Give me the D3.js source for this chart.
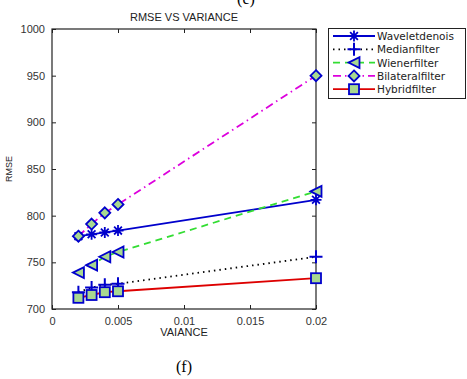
<!DOCTYPE html>
<html><head><meta charset="utf-8">
<script src="https://cdn.jsdelivr.net/npm/d3@7"></script>
<style>body{margin:0;background:#fff}svg{display:block}</style>
</head><body><svg id="c" width="467" height="379"></svg>
<script>
const variance = [0.002, 0.003, 0.004, 0.005, 0.02];
const wavelet   = [778, 780, 782, 784, 817];
const median    = [718, 723, 726, 727, 756];
const wiener    = [739, 747, 756, 761, 826];
const bilateral = [778, 791, 803, 812, 950];
const hybrid    = [712, 715, 718, 719, 733];
const seriesNames = ["Waveletdenois","Medianfilter","Wienerfilter","Bilateralfilter","Hybridfilter"];
const xTicks = [0, 0.005, 0.01, 0.015, 0.02];
const xTickLabels = ["0","0.005","0.01","0.015","0.02"];
const yTicks = [700, 750, 800, 850, 900, 950, 1000];

const series = [
  {name: seriesNames[0], values: wavelet,   color:"#0000cc", dash:null,        marker:"star"},
  {name: seriesNames[1], values: median,    color:"#000000", dash:"1.5,4",     marker:"plus"},
  {name: seriesNames[2], values: wiener,    color:"#33dd33", dash:"7,5",       marker:"tri"},
  {name: seriesNames[3], values: bilateral, color:"#dd00dd", dash:"8,4,1.5,4", marker:"diamond"},
  {name: seriesNames[4], values: hybrid,    color:"#dd0000", dash:null,        marker:"square"}
];

const svg = d3.select("#c");
const L=52,R=316,T=29,B=309;
const x = d3.scaleLinear().domain([0,0.02]).range([L,R]);
const y = d3.scaleLinear().domain([700,1000]).range([B,T]);
const font = "'Liberation Sans', Arial, sans-serif";
const lfont = "'DejaVu Sans', Verdana, sans-serif";
const mEdge = "#0000cc", mFill = "#a8d890";

// top label of the previous panel (partly cut in the reference)
svg.append("text").attr("x",246).attr("y",4).attr("text-anchor","middle")
  .attr("font-family","'Liberation Serif', serif").attr("font-size",16).attr("fill","#000").text("(e)");

// axes (inward ticks)
const gx = svg.append("g").attr("transform",`translate(0,${B})`)
  .call(d3.axisBottom(x).tickValues(xTicks).tickFormat((d,i)=>xTickLabels[i]).tickSizeInner(-4).tickSizeOuter(0).tickPadding(8));
const gxt = svg.append("g").attr("transform",`translate(0,${T})`)
  .call(d3.axisTop(x).tickValues(xTicks).tickFormat("").tickSizeInner(-4).tickSizeOuter(0));
const gy = svg.append("g").attr("transform",`translate(${L},0)`)
  .call(d3.axisLeft(y).tickValues(yTicks).tickFormat(d3.format("d")).tickSizeInner(-4).tickSizeOuter(0).tickPadding(7));
const gyr = svg.append("g").attr("transform",`translate(${R},0)`)
  .call(d3.axisRight(y).tickValues(yTicks).tickFormat("").tickSizeInner(-4).tickSizeOuter(0));
[gx,gxt,gy,gyr].forEach(g=>{
  g.selectAll(".domain").remove();
  g.selectAll("line").attr("stroke","#222").attr("stroke-width",1);
  g.selectAll("text").attr("font-family",font).attr("font-size",11).attr("fill","#333");
});
svg.append("rect").attr("x",L).attr("y",T).attr("width",R-L).attr("height",B-T)
  .attr("fill","none").attr("stroke","#222").attr("stroke-width",1.2);

// labels
svg.append("text").attr("x",(L+R)/2).attr("y",21).attr("text-anchor","middle")
  .attr("font-family",font).attr("font-size",11).attr("fill","#222").text("RMSE VS VARIANCE");
svg.append("text").attr("x",(L+R)/2).attr("y",336).attr("text-anchor","middle")
  .attr("font-family",font).attr("font-size",11).attr("fill","#222").text("VAIANCE");
svg.append("text").attr("transform",`translate(12,${(T+B)/2}) rotate(-90)`).attr("text-anchor","middle")
  .attr("font-family",font).attr("font-size",9).attr("fill","#222").text("RMSE");
svg.append("text").attr("x",(L+R)/2).attr("y",372).attr("text-anchor","middle")
  .attr("font-family","'Liberation Serif', serif").attr("font-size",16).attr("fill","#000").text("(f)");

function drawMarker(g, type, cx, cy){
  const s=5.5;
  if(type==="star"){
    const p=d3.path();
    for(let k=0;k<4;k++){const a=k*Math.PI/4; p.moveTo(cx-s*Math.cos(a),cy-s*Math.sin(a)); p.lineTo(cx+s*Math.cos(a),cy+s*Math.sin(a));}
    g.append("path").attr("d",p.toString()).attr("stroke",mEdge).attr("stroke-width",1.8).attr("fill","none");
  } else if(type==="plus"){
    g.append("path").attr("d",`M${cx-s-1},${cy}H${cx+s+1}M${cx},${cy-s-1}V${cy+s+1}`).attr("stroke",mEdge).attr("stroke-width",2).attr("fill","none");
  } else if(type==="tri"){
    g.append("path").attr("d",`M${cx-s},${cy}L${cx+s},${cy-s}L${cx+s},${cy+s}Z`).attr("stroke",mEdge).attr("stroke-width",1.8).attr("fill",mFill);
  } else if(type==="diamond"){
    g.append("path").attr("d",`M${cx},${cy-s}L${cx+s},${cy}L${cx},${cy+s}L${cx-s},${cy}Z`).attr("stroke",mEdge).attr("stroke-width",1.8).attr("fill",mFill);
  } else if(type==="square"){
    g.append("rect").attr("x",cx-s+0.5).attr("y",cy-s+0.5).attr("width",2*s-1).attr("height",2*s-1).attr("stroke",mEdge).attr("stroke-width",1.8).attr("fill",mFill);
  }
}

const line = d3.line().x((d,i)=>x(variance[i])).y(d=>y(d));
series.forEach(s=>{
  svg.append("path").attr("d",line(s.values)).attr("fill","none").attr("stroke",s.color)
    .attr("stroke-width",1.8).attr("stroke-dasharray",s.dash);
});
series.forEach(s=>{
  const g=svg.append("g");
  s.values.forEach((v,i)=>drawMarker(g,s.marker,x(variance[i]),y(v)));
});

// legend
const lg = svg.append("g");
lg.append("rect").attr("x",328.5).attr("y",28.5).attr("width",137).attr("height",70)
  .attr("fill","#fff").attr("stroke","#222").attr("stroke-width",1);
series.forEach((s,i)=>{
  const yy = 36 + i*13.3;
  lg.append("line").attr("x1",333).attr("x2",375).attr("y1",yy).attr("y2",yy)
    .attr("stroke",s.color).attr("stroke-width",1.8).attr("stroke-dasharray",s.dash);
  drawMarker(lg,s.marker,354,yy);
  lg.append("text").attr("x",377).attr("y",yy+4).attr("font-family",lfont).attr("font-size",10.5)
    .attr("fill","#222").text(s.name);
});
</script></body></html>
